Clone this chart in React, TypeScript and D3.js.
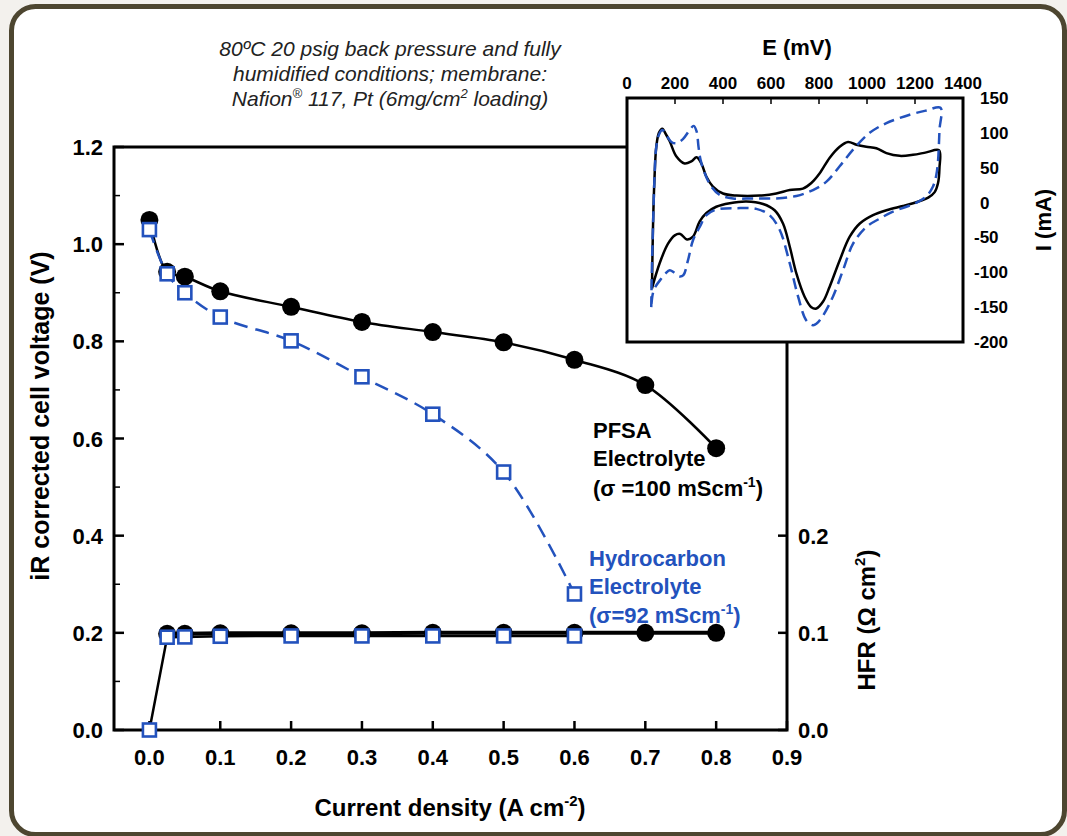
import React from 'react'
import * as d3 from 'd3'

// polarization data (current density A/cm2 -> iR-corrected voltage V)
const pfsaJ = [0, 0.025, 0.05, 0.1, 0.2, 0.3, 0.4, 0.5, 0.6, 0.7, 0.8]
const pfsaV = [1.05, 0.943, 0.933, 0.903, 0.871, 0.84, 0.819, 0.798, 0.762, 0.71, 0.58]
const hcJ = [0, 0.025, 0.05, 0.1, 0.2, 0.3, 0.4, 0.5, 0.6]
const hcV = [1.03, 0.939, 0.9, 0.85, 0.801, 0.727, 0.65, 0.531, 0.28]

// HFR (ohm cm2)
const pfsaHfrJ = [0.025, 0.05, 0.1, 0.2, 0.3, 0.4, 0.5, 0.6, 0.7, 0.8]
const pfsaHfr = [0.099, 0.099, 0.0995, 0.0995, 0.0995, 0.1, 0.1, 0.1, 0.1, 0.1]
const hcHfrJ = [0, 0.025, 0.05, 0.1, 0.2, 0.3, 0.4, 0.5, 0.6]
const hcHfr = [0, 0.0955, 0.0958, 0.0965, 0.0968, 0.0968, 0.0968, 0.0968, 0.0968]

const xTicks = [0, 0.1, 0.2, 0.3, 0.4, 0.5, 0.6, 0.7, 0.8, 0.9]
const yTicks = [0, 0.2, 0.4, 0.6, 0.8, 1.0, 1.2]
const yMinor = [0.1, 0.3, 0.5, 0.7, 0.9, 1.1]
const hfrTicks = [0, 0.1, 0.2]

// cyclic voltammograms for the inset (E mV, I mA)
const cvPfsa: [number, number][] = [
  [104, -123], [108, -40], [114, 30], [122, 80], [133, 100], [147, 106], [162, 98], [178, 88],
  [206, 66], [240, 56], [268, 59], [290, 65], [310, 56], [331, 37], [358, 23], [400, 13],
  [456, 10], [553, 10], [622, 13], [678, 18], [733, 20], [768, 28], [803, 42], [844, 64],
  [886, 80], [921, 87], [956, 83], [997, 80], [1039, 78], [1081, 71], [1136, 67], [1192, 68.5],
  [1247, 72], [1300, 75], [1302, 50], [1296, 28], [1282, 15], [1255, 7], [1226, 3], [1192, -1],
  [1150, -5], [1081, -11], [1025, -18], [970, -30], [928, -49], [886, -83], [844, -121],
  [817, -142], [789, -152], [768, -150], [740, -135], [706, -102], [678, -63], [650, -30],
  [615, -11], [567, -2], [497, 1.5], [428, -1], [372, -6], [331, -15], [303, -27], [275, -49],
  [250, -53], [222, -45], [199, -47], [171, -59], [136, -87], [104, -123],
]
const cvHc: [number, number][] = [
  [101, -150], [104, -90], [108, -39], [114, 30], [122, 80], [134, 98], [147, 104], [165, 96],
  [185, 87], [206, 85], [233, 91], [261, 104], [278, 110], [290, 102], [298, 80], [306, 62],
  [324, 42], [351, 23], [386, 11], [442, 6], [525, 6], [622, 6], [706, 9.5], [775, 18],
  [831, 30], [886, 52], [942, 76], [1011, 100], [1081, 114], [1178, 126], [1247, 132], [1306, 136],
  [1302, 104], [1296, 60], [1289, 40], [1275, 23], [1247, 9], [1206, 0], [1164, -6], [1108, -13],
  [1053, -23], [997, -35], [942, -59], [900, -97], [858, -135], [817, -162], [789, -174],
  [775, -176], [747, -169], [713, -135], [678, -87], [636, -39], [594, -18], [539, -9],
  [456, -8], [372, -10], [331, -18], [303, -35], [275, -54], [254, -83], [235, -104], [219, -106],
  [195, -100], [178, -97], [160, -102], [143, -109], [120, -120], [108, -130], [101, -150],
]
const cvXTicks = [0, 200, 400, 600, 800, 1000, 1200, 1400]
const cvYTicks = [150, 100, 50, 0, -50, -100, -150, -200]

const BLUE = '#2352bd'
const FONT = 'Liberation Sans, Arial, sans-serif'

const App = () => {
  const x = d3.scaleLinear().domain([-0.05, 0.9]).range([114, 787])
  const y = d3.scaleLinear().domain([0, 1.2]).range([730, 147])
  const yHfr = d3.scaleLinear().domain([0, 0.6]).range([730, 147])

  const ix = d3.scaleLinear().domain([0, 1400]).range([627, 963])
  const iy = d3.scaleLinear().domain([-200, 150]).range([342, 98])

  const pfsa = pfsaJ.map((j, i) => [j, pfsaV[i]] as [number, number])
  const hc = hcJ.map((j, i) => [j, hcV[i]] as [number, number])
  const pfsaH = pfsaHfrJ.map((j, i) => [j, pfsaHfr[i]] as [number, number])
  const hcH = hcHfrJ.map((j, i) => [j, hcHfr[i]] as [number, number])

  const vLine = d3
    .line<[number, number]>()
    .x(d => x(d[0]))
    .y(d => y(d[1]))
    .curve(d3.curveCatmullRom)
  const hLine = d3
    .line<[number, number]>()
    .x(d => x(d[0]))
    .y(d => yHfr(d[1]))
  const cvLine = d3
    .line<[number, number]>()
    .x(d => ix(d[0]))
    .y(d => iy(d[1]))
    .curve(d3.curveCatmullRom)

  const sq = 13
  const square = (cx: number, cy: number, k: string) => (
    <rect key={k} x={cx - sq / 2} y={cy - sq / 2} width={sq} height={sq} fill="#fff" stroke={BLUE} strokeWidth={2.6} />
  )

  return (
    <svg width={1067} height={836} style={{position: 'absolute', left: 0, top: 0}} fontFamily={FONT}>
      <rect width={1067} height={836} fill="#f3f1ed" />
      <rect x={11.5} y={6.5} width={1053} height={828} rx={24} fill="#fff" stroke="#4d4630" strokeWidth={5} />

      {/* title */}
      <g fontStyle="italic" fontSize={21} textAnchor="middle" fill="#222">
        <text x={390} y={56}>80ºC 20 psig back pressure and fully</text>
        <text x={390} y={81}>humidified conditions; membrane:</text>
        <text x={390} y={106}>
          Nafion<tspan fontSize={13} dy={-8}>®</tspan>
          <tspan dy={8}> 117, Pt (6mg/cm</tspan>
          <tspan fontSize={13} dy={-8}>2</tspan>
          <tspan dy={8}> loading)</tspan>
        </text>
      </g>

      {/* main frame */}
      <rect x={114} y={147} width={673} height={583} fill="none" stroke="#000" strokeWidth={3} />

      {/* x ticks */}
      {xTicks.map(t => (
        <g key={'xt' + t}>
          <line x1={x(t)} x2={x(t)} y1={730} y2={721} stroke="#000" strokeWidth={2.5} />
          <text x={x(t)} y={765} textAnchor="middle" fontSize={22} fontWeight="bold">
            {d3.format('.1f')(t)}
          </text>
        </g>
      ))}
      {/* left ticks */}
      {yTicks.map(t => (
        <g key={'yt' + t}>
          <line x1={114} x2={124} y1={y(t)} y2={y(t)} stroke="#000" strokeWidth={2.5} />
          <text x={103} y={y(t) + 8} textAnchor="end" fontSize={22} fontWeight="bold">
            {d3.format('.1f')(t)}
          </text>
        </g>
      ))}
      {yMinor.map(t => (
        <line key={'ym' + t} x1={114} x2={120} y1={y(t)} y2={y(t)} stroke="#000" strokeWidth={1.5} />
      ))}
      {/* right HFR ticks */}
      {hfrTicks.map(t => (
        <g key={'ht' + t}>
          <line x1={787} x2={778} y1={yHfr(t)} y2={yHfr(t)} stroke="#000" strokeWidth={2.5} />
          <text x={798} y={yHfr(t) + 8} fontSize={22} fontWeight="bold">
            {d3.format('.1f')(t)}
          </text>
        </g>
      ))}

      {/* axis titles */}
      <text x={450} y={816} textAnchor="middle" fontSize={24} fontWeight="bold">
        Current density (A cm<tspan fontSize={15} dy={-10}>-2</tspan>
        <tspan dy={10}>)</tspan>
      </text>
      <text transform="translate(49,416) rotate(-90)" textAnchor="middle" fontSize={25} fontWeight="bold">
        iR corrected cell voltage (V)
      </text>
      <text transform="translate(875,620) rotate(-90)" textAnchor="middle" fontSize={24} fontWeight="bold">
        HFR (Ω cm<tspan fontSize={15} dy={-10}>2</tspan>
        <tspan dy={10}>)</tspan>
      </text>

      {/* HFR lines */}
      <path d={hLine(hcH) || ''} fill="none" stroke="#000" strokeWidth={2.5} />
      <path d={hLine(pfsaH) || ''} fill="none" stroke="#000" strokeWidth={4} />
      {pfsaH.map((d, i) => (
        <circle key={'hc' + i} cx={x(d[0])} cy={yHfr(d[1])} r={9} fill="#000" />
      ))}
      {hcH.map((d, i) => square(x(d[0]), yHfr(d[1]), 'hs' + i))}

      {/* voltage curves */}
      <path d={vLine(pfsa) || ''} fill="none" stroke="#000" strokeWidth={2.5} />
      <path d={vLine(hc) || ''} fill="none" stroke={BLUE} strokeWidth={2.5} strokeDasharray="14,8" />
      {pfsa.map((d, i) => (
        <circle key={'vc' + i} cx={x(d[0])} cy={y(d[1])} r={9} fill="#000" />
      ))}
      {hc.map((d, i) => square(x(d[0]), y(d[1]), 'vs' + i))}

      {/* legends */}
      <g fontSize={22} fontWeight="bold">
        <text x={593} y={438}>PFSA</text>
        <text x={593} y={466}>Electrolyte</text>
        <text x={593} y={496}>
          (σ =100 mScm<tspan fontSize={14} dy={-9}>-1</tspan>
          <tspan dy={9}>)</tspan>
        </text>
        <g fill={BLUE}>
          <text x={589} y={566}>Hydrocarbon</text>
          <text x={589} y={594}>Electrolyte</text>
          <text x={589} y={623}>
            (σ=92 mScm<tspan fontSize={14} dy={-9}>-1</tspan>
            <tspan dy={9}>)</tspan>
          </text>
        </g>
      </g>

      {/* inset */}
      <rect x={627} y={98} width={336} height={244} fill="#fff" stroke="#000" strokeWidth={3} />
      {cvXTicks.map(t => (
        <g key={'cx' + t}>
          <line x1={ix(t)} x2={ix(t)} y1={98} y2={104} stroke="#000" strokeWidth={1.5} />
          <text x={ix(t)} y={89} textAnchor="middle" fontSize={17} fontWeight="bold">
            {t}
          </text>
        </g>
      ))}
      {cvYTicks.map(t => (
        <text key={'cy' + t} x={t < 0 ? 974 : 980} y={iy(t) + 6} fontSize={17} fontWeight="bold">
          {t}
        </text>
      ))}
      <text x={797} y={55} textAnchor="middle" fontSize={22} fontWeight="bold">
        E (mV)
      </text>
      <text transform="translate(1051,220) rotate(-90)" textAnchor="middle" fontSize={22} fontWeight="bold">
        I (mA)
      </text>
      <path d={cvLine(cvPfsa) || ''} fill="none" stroke="#000" strokeWidth={2.5} />
      <path d={cvLine(cvHc) || ''} fill="none" stroke={BLUE} strokeWidth={2.5} strokeDasharray="11,6" />
    </svg>
  )
}

export default App
